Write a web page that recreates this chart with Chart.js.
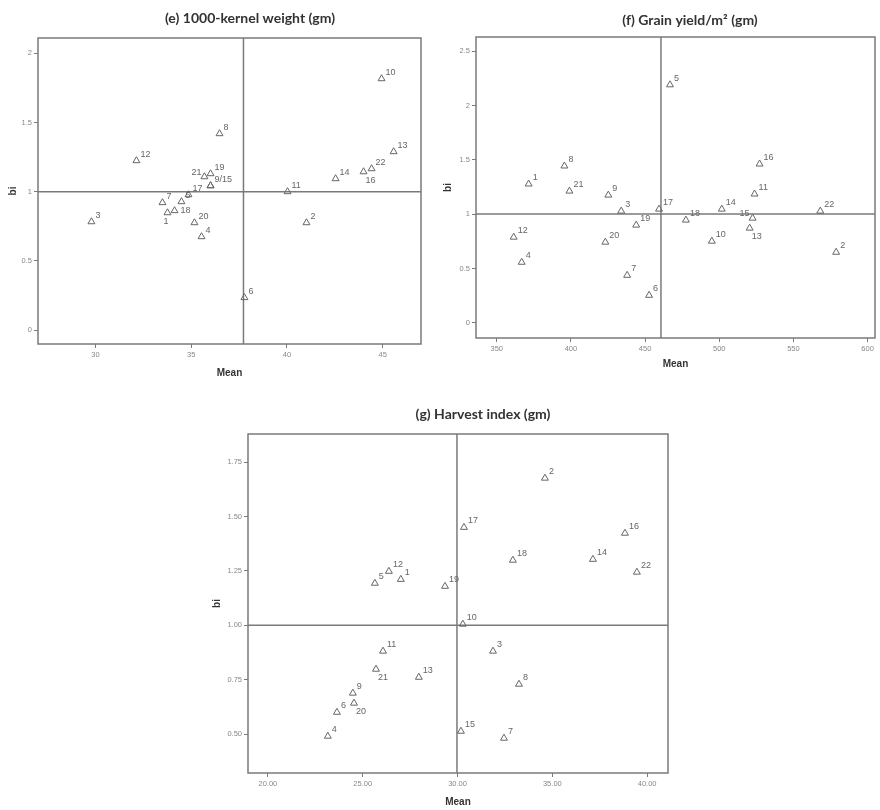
<!DOCTYPE html>
<html>
<head>
<meta charset="utf-8">
<title>Mean vs bi scatter plots</title>
<script src="https://cdn.jsdelivr.net/npm/chart.js@4.4.0/dist/chart.umd.min.js"></script>
<style>
  body { margin: 0; background: #fff; width: 880px; height: 810px; overflow: hidden; }
  .panel { position: absolute; }
</style>
</head>
<body>
<div class="panel" style="left:0;top:0"><canvas id="chartE" width="440" height="385"></canvas></div>
<div class="panel" style="left:440px;top:0"><canvas id="chartF" width="440" height="385"></canvas></div>
<div class="panel" style="left:200px;top:385px"><canvas id="chartG" width="490" height="425"></canvas></div>
<script>
// genotype numbers, same order in every panel
const genotypes = ['1','2','3','4','5','6','7','8','9','10','11','12','13','14','15','16','17','18','19','20','21','22'];

// (e) 1000-kernel weight
const meanE = [33.76, 41.02, 29.79, 35.54, 34.49, 37.78, 33.50, 36.48, 36.01, 44.94, 40.03, 32.14, 45.57, 42.54, 36.01, 44.00, 34.86, 34.13, 36.01, 35.17, 35.69, 44.42];
const biE = [0.848, 0.776, 0.783, 0.675, 0.928, 0.235, 0.921, 1.419, 1.043, 1.816, 1.0, 1.224, 1.289, 1.094, 1.043, 1.144, 0.978, 0.863, 1.130, 0.776, 1.108, 1.166];
const labelsE = ['1','2','3','4','5','6','7','8','','10','11','12','13','14','9/15','16','17','18','19','20','21','22'];
const xTicksE = [30, 35, 40, 45];
const yTicksE = [0, 0.5, 1, 1.5, 2];
const grandMeanE = 37.73;

// (f) grain yield per m2
const meanF = [371.5, 578.8, 433.9, 366.8, 466.8, 452.7, 437.9, 395.6, 425.2, 495.0, 523.8, 361.4, 520.5, 501.7, 522.5, 527.2, 459.4, 477.5, 444.0, 423.2, 399.0, 568.1];
const biF = [1.277, 0.649, 1.028, 0.557, 2.190, 0.253, 0.437, 1.443, 1.175, 0.751, 1.185, 0.788, 0.871, 1.046, 0.963, 1.461, 1.046, 0.945, 0.899, 0.742, 1.212, 1.028];
const xTicksF = [350, 400, 450, 500, 550, 600];
const yTicksF = [0, 0.5, 1, 1.5, 2, 2.5];
const grandMeanF = 460.7;

// (g) harvest index
const meanG = [27.01, 34.61, 31.87, 23.16, 25.64, 23.64, 32.45, 33.24, 24.48, 30.28, 26.07, 26.38, 27.96, 37.14, 30.18, 38.83, 30.34, 32.92, 29.34, 24.54, 25.70, 39.46];
const biG = [1.211, 1.676, 0.881, 0.490, 1.193, 0.600, 0.481, 0.729, 0.688, 1.005, 0.881, 1.248, 0.761, 1.303, 0.513, 1.423, 1.450, 1.299, 1.179, 0.642, 0.798, 1.244];
const xTicksG = [20, 25, 30, 35, 40];
const yTicksG = [0.5, 0.75, 1, 1.25, 1.5, 1.75];
const grandMeanG = 29.97;

Chart.defaults.font.family = "'Liberation Sans', Arial, sans-serif";
Chart.defaults.color = '#777';

// frame box + panel title
const panelFrame = {
    id: 'panelFrame',
    beforeDatasetsDraw(chart, args, opts) {
        const ctx = chart.ctx;
        const a = chart.chartArea;
        ctx.save();
        ctx.strokeStyle = '#7a7a7a';
        ctx.lineWidth = 1.5;
        ctx.strokeRect(a.left, a.top, a.right - a.left, a.bottom - a.top);
        ctx.font = 'bold 14px Lato, sans-serif';
        ctx.fillStyle = '#333';
        ctx.textAlign = 'center';
        ctx.textBaseline = 'middle';
        ctx.fillText(opts.title, opts.titleX, opts.titleY);
        ctx.restore();
    }
};

// genotype number next to each triangle
const pointLabels = {
    id: 'pointLabels',
    afterDatasetsDraw(chart, args, opts) {
        const ctx = chart.ctx;
        const meta = chart.getDatasetMeta(0);
        ctx.save();
        ctx.font = "9px 'Liberation Sans', Arial, sans-serif";
        ctx.fillStyle = '#666';
        ctx.textBaseline = 'alphabetic';
        meta.data.forEach((pt, i) => {
            const txt = opts.labels[i];
            if (!txt) return;
            const spot = opts.spots[txt];
            if (spot === 'below') {
                ctx.textAlign = 'left';
                ctx.fillText(txt, pt.x + 2, pt.y + 11);
            } else if (spot === 'left') {
                ctx.textAlign = 'right';
                ctx.fillText(txt, pt.x - 3, pt.y - 2);
            } else if (spot === 'right') {
                ctx.textAlign = 'left';
                ctx.fillText(txt, pt.x + 6, pt.y + 2);
            } else if (spot === 'belowleft') {
                ctx.textAlign = 'right';
                ctx.fillText(txt, pt.x + 1, pt.y + 11);
            } else {
                ctx.textAlign = 'left';
                ctx.fillText(txt, pt.x + 4, pt.y - 4);
            }
        });
        ctx.restore();
    }
};

function makeAxis(min, max, ticks, fmt, title, titlePad, size, isY) {
    return {
        type: 'linear',
        min: min,
        max: max,
        afterBuildTicks: s => { s.ticks = ticks.map(v => ({ value: v })); },
        afterFit: s => { if (isY) s.width = size; else s.height = size; },
        border: { display: false },
        grid: { drawOnChartArea: false, drawTicks: true, tickLength: 4, color: '#7a7a7a', lineWidth: 1 },
        ticks: { font: { size: 7.5 }, color: '#888', padding: 2, maxRotation: 0, callback: v => fmt(v) },
        title: { display: true, text: title, color: '#333', font: { size: 10, weight: 'bold' }, padding: titlePad }
    };
}

function makePanel(id, p) {
    const pts = p.mean.map((m, i) => ({ x: m, y: p.bi[i] }));
    new Chart(document.getElementById(id), {
        type: 'scatter',
        data: {
            datasets: [{
                data: pts,
                pointStyle: 'triangle',
                pointRadius: 4,
                borderColor: '#666',
                backgroundColor: 'rgba(255,255,255,0)',
                borderWidth: 1
            }, {
                data: [{ x: p.grandMean, y: p.yMin }, { x: p.grandMean, y: p.yMax }],
                showLine: true, pointRadius: 0, borderColor: '#7a7a7a', borderWidth: 1.5
            }, {
                data: [{ x: p.xMin, y: 1 }, { x: p.xMax, y: 1 }],
                showLine: true, pointRadius: 0, borderColor: '#7a7a7a', borderWidth: 1.5
            }]
        },
        options: {
            responsive: false,
            animation: false,
            events: [],
            layout: { padding: p.padding },
            scales: {
                x: makeAxis(p.xMin, p.xMax, p.xTicks, p.xFmt, 'Mean', { top: 0, bottom: p.meanPad }, p.xSize, false),
                y: makeAxis(p.yMin, p.yMax, p.yTicks, p.yFmt, 'bi', { top: p.biPad, bottom: 0 }, p.ySize, true)
            },
            plugins: {
                legend: { display: false },
                tooltip: { enabled: false },
                panelFrame: { title: p.title, titleX: p.titleX, titleY: p.titleY },
                pointLabels: { labels: p.labels, spots: p.spots }
            }
        },
        plugins: [panelFrame, pointLabels]
    });
}

makePanel('chartE', {
    mean: meanE, bi: biE, labels: labelsE, spots: { '21': 'left', '16': 'below', '18': 'right', '1': 'belowleft' },
    grandMean: grandMeanE, xMin: 27, xMax: 47, yMin: -0.1, yMax: 2.11,
    xTicks: xTicksE, yTicks: yTicksE, xFmt: v => String(v), yFmt: v => String(v),
    padding: { left: 0, top: 38, right: 19, bottom: 0 }, xSize: 41, ySize: 38,
    meanPad: 6, biPad: 7,
    title: '(e) 1000-kernel weight (gm)', titleX: 250, titleY: 18
});

makePanel('chartF', {
    mean: meanF, bi: biF, labels: genotypes, spots: { '13': 'below', '15': 'left' },
    grandMean: grandMeanF, xMin: 336, xMax: 605, yMin: -0.14, yMax: 2.63,
    xTicks: xTicksF, yTicks: yTicksF, xFmt: v => String(v), yFmt: v => String(v),
    padding: { left: 0, top: 37, right: 3, bottom: 0 }, xSize: 47, ySize: 36,
    meanPad: 15, biPad: 2,
    title: '(f) Grain yield/m² (gm)', titleX: 250, titleY: 20
});

makePanel('chartG', {
    mean: meanG, bi: biG, labels: genotypes, spots: { '21': 'below', '20': 'below' },
    grandMean: grandMeanG, xMin: 18.95, xMax: 41.1, yMin: 0.321, yMax: 1.879,
    xTicks: xTicksG, yTicks: yTicksG, xFmt: v => v.toFixed(2), yFmt: v => v.toFixed(2),
    padding: { left: 0, top: 49, right: 22, bottom: 0 }, xSize: 37, ySize: 48,
    meanPad: 2, biPad: 11,
    title: '(g) Harvest index (gm)', titleX: 283, titleY: 29
});
</script>
</body>
</html>
